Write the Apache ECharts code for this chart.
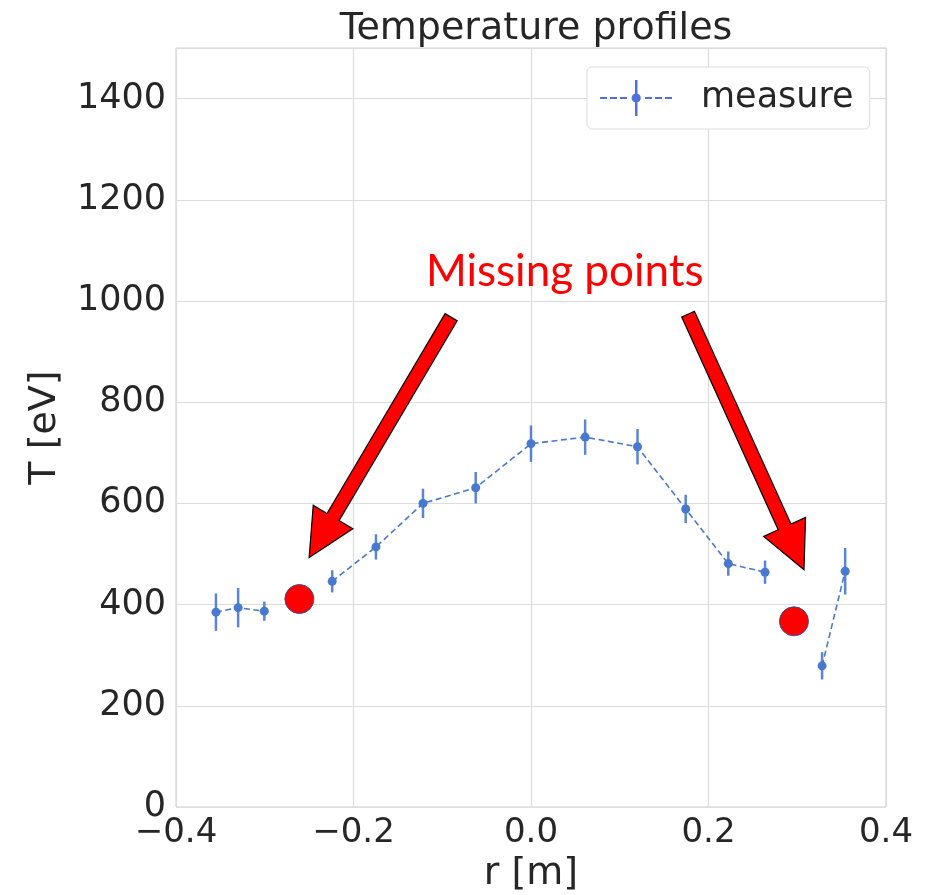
<!DOCTYPE html>
<html>
<head>
<meta charset="utf-8">
<script src="https://cdn.jsdelivr.net/npm/echarts@6/dist/echarts.min.js"></script>
<style>
  html, body { margin: 0; padding: 0; background: #fff; }
  #chart { width: 928px; height: 895px; }
</style>
</head>
<body>
<div id="chart"></div>
<script>
// measured profile
var rMeas = [-0.355, -0.330, -0.3005, -0.224, -0.1747, -0.1217, -0.0623, 0.0, 0.061, 0.12, 0.1743, 0.2223, 0.2637, 0.328, 0.354]
var TMeas = [385, 394, 387, 446, 514, 600, 631, 718, 731, 712, 589, 481, 464, 279, 466]
var TErr = [37, 39, 19, 22, 25, 29, 31, 36, 35, 35, 28, 24, 23, 27, 46]

// points that are missing from the measurement
var rMiss = [-0.261, 0.2963]
var TMiss = [411, 367]

var xTicks = [-0.4, -0.2, 0.0, 0.2, 0.4]
var yTicks = [0, 200, 400, 600, 800, 1000, 1200, 1400]

// annotation: label and two arrows (tail -> head, data coords)
var noteText = 'Missing points'
var notePos = [0.038, 1057]
var arrows = [
  [[-0.090, 968], [-0.250, 493]],
  [[0.177, 974], [0.3076, 469]]
]

var blue = '#4878d0'
var textColor = '#262626'
var font = 'DejaVu Sans'

// line data, broken where a point is missing
var pts = rMeas.map(function (r, i) { return [r, TMeas[i]] })
rMiss.forEach(function (r) { pts.push([r, null]) })
pts.sort(function (a, b) { return a[0] - b[0] })
var lineData = pts

var errData = rMeas.map(function (r, i) { return [r, TMeas[i] - TErr[i], TMeas[i] + TErr[i]] })
var missData = rMiss.map(function (r, i) { return [r, TMiss[i]] })

var legendIcon = 'path://M0 17h7v2h-7zM10 17h7v2h-7zM20 17h7v2h-7zM45 17h7v2h-7zM55 17h7v2h-7zM65 17h7v2h-7z' +
  'M35 0h2.5v36h-2.5z' +
  'M40.8 18A4.6 4.6 0 1 1 31.6 18A4.6 4.6 0 1 1 40.8 18Z'

var myChart = echarts.init(document.getElementById('chart'))

var option = {
  animation: false,
  title: {
    text: 'Temperature profiles',
    left: 531,
    textAlign: 'center',
    top: 5,
    textStyle: { fontFamily: font, fontSize: 38, fontWeight: 'normal', color: textColor }
  },
  grid: {
    left: 176,
    right: 42,
    top: 48,
    bottom: 88,
    outerBoundsMode: 'none',
    show: true,
    borderColor: '#cccccc',
    borderWidth: 1
  },
  legend: {
    left: 587,
    top: 67,
    orient: 'vertical',
    data: [{ name: 'measure', icon: legendIcon }],
    itemWidth: 72,
    itemHeight: 36,
    itemGap: 30,
    padding: [13, 16, 13, 13],
    borderColor: '#dddddd',
    borderWidth: 1,
    borderRadius: 5,
    backgroundColor: '#ffffff',
    textStyle: { fontFamily: font, fontSize: 35, color: textColor, padding: [0, 0, 0, 24] }
  },
  xAxis: {
    type: 'value',
    min: xTicks[0],
    max: xTicks[xTicks.length - 1],
    interval: 0.2,
    name: 'r [m]',
    nameLocation: 'middle',
    nameGap: 48,
    nameTextStyle: { fontFamily: font, fontSize: 38, color: textColor },
    axisLine: { show: false },
    axisTick: { show: false },
    axisLabel: {
      fontFamily: font, fontSize: 34, color: textColor, margin: 9,
      formatter: function (v) { return v.toFixed(1).replace('-', '\u2212') }
    },
    splitLine: { lineStyle: { color: '#dddddd', width: 1.2 } }
  },
  yAxis: {
    type: 'value',
    min: yTicks[0],
    max: 1500,
    interval: 200,
    name: 'T [eV]',
    nameLocation: 'middle',
    nameGap: 112,
    nameTextStyle: { fontFamily: font, fontSize: 38, color: textColor },
    axisLine: { show: false },
    axisTick: { show: false },
    axisLabel: {
      fontFamily: font, fontSize: 35, color: textColor, margin: 10,
      showMaxLabel: false,
      formatter: function (v) { return String(v) }
    },
    splitLine: { lineStyle: { color: '#dddddd', width: 1.2 } }
  },
  series: [
    {
      name: 'measure',
      type: 'custom',
      z: 2,
      data: errData,
      renderItem: function (params, api) {
        var p1 = api.coord([api.value(0), api.value(1)])
        var p2 = api.coord([api.value(0), api.value(2)])
        return {
          type: 'line',
          shape: { x1: p1[0], y1: p1[1], x2: p2[0], y2: p2[1] },
          style: { stroke: blue, lineWidth: 2.5, opacity: 0.9 }
        }
      }
    },
    {
      name: 'measure',
      type: 'line',
      z: 3,
      data: lineData,
      connectNulls: false,
      symbol: 'circle',
      symbolSize: 9,
      showSymbol: true,
      itemStyle: { color: blue },
      lineStyle: { color: blue, width: 1.6, type: [6, 3.5] }
    },
    {
      name: 'missing',
      type: 'scatter',
      z: 4,
      data: missData,
      symbolSize: 29,
      itemStyle: { color: '#ff0000', opacity: 1, borderColor: '#3b4a8c', borderWidth: 1 }
    }
  ]
}

myChart.setOption(option)

function arrowPoints(t, h) {
  var dx = h[0] - t[0], dy = h[1] - t[1]
  var len = Math.sqrt(dx * dx + dy * dy)
  var ux = dx / len, uy = dy / len
  var nx = -uy, ny = ux
  var w = 7, hw = 23, hl = 47
  var bx = h[0] - ux * hl, by = h[1] - uy * hl
  return [
    [t[0] + nx * w, t[1] + ny * w],
    [bx + nx * w, by + ny * w],
    [bx + nx * hw, by + ny * hw],
    [h[0], h[1]],
    [bx - nx * hw, by - ny * hw],
    [bx - nx * w, by - ny * w],
    [t[0] - nx * w, t[1] - ny * w]
  ]
}

var graphics = arrows.map(function (a) {
  var t = myChart.convertToPixel({ gridIndex: 0 }, a[0])
  var h = myChart.convertToPixel({ gridIndex: 0 }, a[1])
  return {
    type: 'polygon',
    z: 10,
    shape: { points: arrowPoints(t, h) },
    style: { fill: '#ff0000', stroke: '#000000', lineWidth: 1.2 }
  }
})
var np = myChart.convertToPixel({ gridIndex: 0 }, notePos)
graphics.push({
  type: 'text',
  z: 10,
  x: np[0],
  y: np[1],
  style: {
    text: noteText,
    fill: '#ff0000',
    font: '44px Lato',
    textAlign: 'center',
    textVerticalAlign: 'middle'
  }
})
myChart.setOption({ graphic: graphics })

window.onresize = function () {
  myChart.resize()
}
</script>
</body>
</html>
